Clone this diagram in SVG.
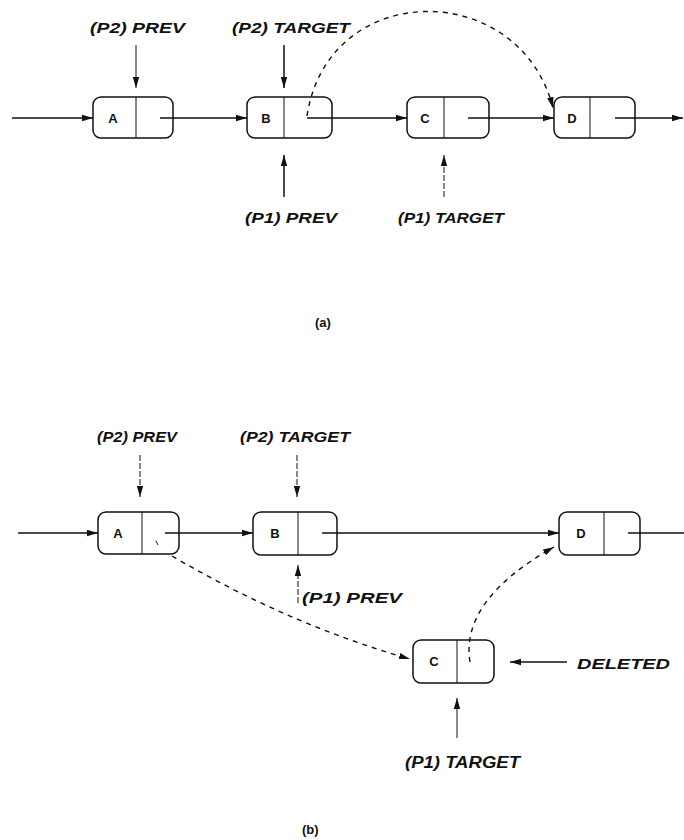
<svg xmlns="http://www.w3.org/2000/svg" width="684" height="840" viewBox="0 0 684 840">
<defs>
<marker id="ah" markerUnits="userSpaceOnUse" markerWidth="12" markerHeight="8" refX="11" refY="4" orient="auto">
<path d="M0,0.8 L11,4 L0,7.2 Z" fill="#111"/>
</marker>
</defs>
<style>
.box{fill:#fff;stroke:#111;stroke-width:1.5}
.div{stroke:#111;stroke-width:1}
.ln{fill:none;stroke:#111;stroke-width:1.5}
.thin{fill:none;stroke:#111;stroke-width:1}
.dash{fill:none;stroke:#111;stroke-width:1.4;stroke-dasharray:5 5}
.dashthin{fill:none;stroke:#111;stroke-width:1;stroke-dasharray:6 2}
.lbl{font-family:"Liberation Sans",Arial,sans-serif;font-weight:bold;font-style:italic;fill:#111}
.nd{font-family:"Liberation Sans",Arial,sans-serif;font-weight:bold;font-size:13px;fill:#111;text-anchor:middle}
.cap{font-family:"Liberation Sans",Arial,sans-serif;font-weight:bold;font-size:13px;fill:#111}
</style>

<g id="a-nodes">
<g id="a-A"><rect class="box" x="93" y="97" width="80" height="41" rx="8"/><line class="div" x1="136" y1="97" x2="136" y2="138"/><text class="nd" x="113" y="123">A</text></g>
<g id="a-B"><rect class="box" x="247" y="97" width="85" height="41" rx="8"/><line class="div" x1="284" y1="97" x2="284" y2="138" stroke-width="1.6"/><text class="nd" x="266" y="123">B</text></g>
<g id="a-C"><rect class="box" x="407" y="97" width="82" height="41" rx="8"/><line class="div" x1="444" y1="97" x2="444" y2="138"/><text class="nd" x="425" y="123">C</text></g>
<g id="a-D"><rect class="box" x="554" y="97" width="81" height="41" rx="8"/><line class="div" x1="590" y1="97" x2="590" y2="138"/><text class="nd" x="572" y="123">D</text></g>
</g>

<g id="a-connectors">
<path class="ln" d="M12,118 L93,118" marker-end="url(#ah)"/>
<path class="ln" d="M160,118 L247,118" marker-end="url(#ah)"/>
<path class="ln" d="M307,118 L407,118" marker-end="url(#ah)"/>
<path class="ln" d="M468,118 L554,118" marker-end="url(#ah)"/>
<path class="ln" d="M615,118 L683,118" marker-end="url(#ah)"/>
<path class="dash" d="M307,116 C328,-22 520,-22 553,108" marker-end="url(#ah)"/>
<path class="thin" d="M136,45 L136,88" marker-end="url(#ah)"/>
<path class="ln" d="M284,45 L284,88" marker-end="url(#ah)"/>
<path class="ln" d="M284,197 L284,155" marker-end="url(#ah)"/>
<path class="dashthin" d="M444,197 L444,155" marker-end="url(#ah)"/>
</g>

<g id="a-labels">
<text class="lbl" x="90" y="33" font-size="15" textLength="95" lengthAdjust="spacingAndGlyphs">(P2) PREV</text>
<text class="lbl" x="232" y="33" font-size="15" textLength="118" lengthAdjust="spacingAndGlyphs">(P2) TARGET</text>
<text class="lbl" x="245" y="223" font-size="15" textLength="92" lengthAdjust="spacingAndGlyphs">(P1) PREV</text>
<text class="lbl" x="398" y="223" font-size="15" textLength="106" lengthAdjust="spacingAndGlyphs">(P1) TARGET</text>
<text class="cap" x="315" y="327">(a)</text>
</g>

<g id="b-nodes">
<g id="b-A"><rect class="box" x="98" y="512" width="81" height="42" rx="8"/><line class="div" x1="142" y1="512" x2="142" y2="554"/><text class="nd" x="118" y="538">A</text><line class="thin" x1="156" y1="541" x2="158" y2="545"/></g>
<g id="b-B"><rect class="box" x="253" y="512" width="84" height="43" rx="8"/><line class="div" x1="298" y1="512" x2="298" y2="555"/><text class="nd" x="275" y="538">B</text></g>
<g id="b-D"><rect class="box" x="559" y="512" width="81" height="43" rx="8"/><line class="div" x1="604" y1="512" x2="604" y2="555"/><text class="nd" x="581" y="538">D</text></g>
<g id="b-C"><rect class="box" x="413" y="640" width="81" height="43" rx="8"/><line class="div" x1="457" y1="640" x2="457" y2="683"/><text class="nd" x="434" y="666" font-weight="normal" font-size="14">C</text></g>
</g>

<g id="b-connectors">
<path class="ln" d="M18,533 L98,533" marker-end="url(#ah)"/>
<path class="ln" d="M165,533 L253,533" marker-end="url(#ah)"/>
<path class="ln" d="M322,533 L559,533" marker-end="url(#ah)"/>
<path class="ln" d="M628,533 L684,533"/>
<path class="dashthin" d="M140,455 L140,497" marker-end="url(#ah)"/>
<path class="dashthin" d="M297,455 L297,497" marker-end="url(#ah)"/>
<path class="dashthin" d="M298,603 L298,565" marker-end="url(#ah)"/>
<path class="dash" d="M172,556 Q290,625 410,659" marker-end="url(#ah)"/>
<path class="dash" d="M470,662 Q460,600 554,547" marker-end="url(#ah)" stroke-dasharray="4 5"/>
<path class="ln" d="M567,662 L510,662" marker-end="url(#ah)"/>
<path class="thin" d="M457,738 L457,698" marker-end="url(#ah)"/>
</g>

<g id="b-labels">
<text class="lbl" x="97" y="442" font-size="14" textLength="80" lengthAdjust="spacingAndGlyphs">(P2) PREV</text>
<text class="lbl" x="240" y="442" font-size="14" textLength="110" lengthAdjust="spacingAndGlyphs">(P2) TARGET</text>
<text class="lbl" x="302" y="603" font-size="14" textLength="100" lengthAdjust="spacingAndGlyphs">(P1) PREV</text>
<text class="lbl" x="577" y="669" font-size="15" textLength="93" lengthAdjust="spacingAndGlyphs">DELETED</text>
<text class="lbl" x="405" y="768" font-size="16" textLength="115" lengthAdjust="spacingAndGlyphs">(P1) TARGET</text>
<text class="cap" x="302" y="834">(b)</text>
</g>
</svg>
